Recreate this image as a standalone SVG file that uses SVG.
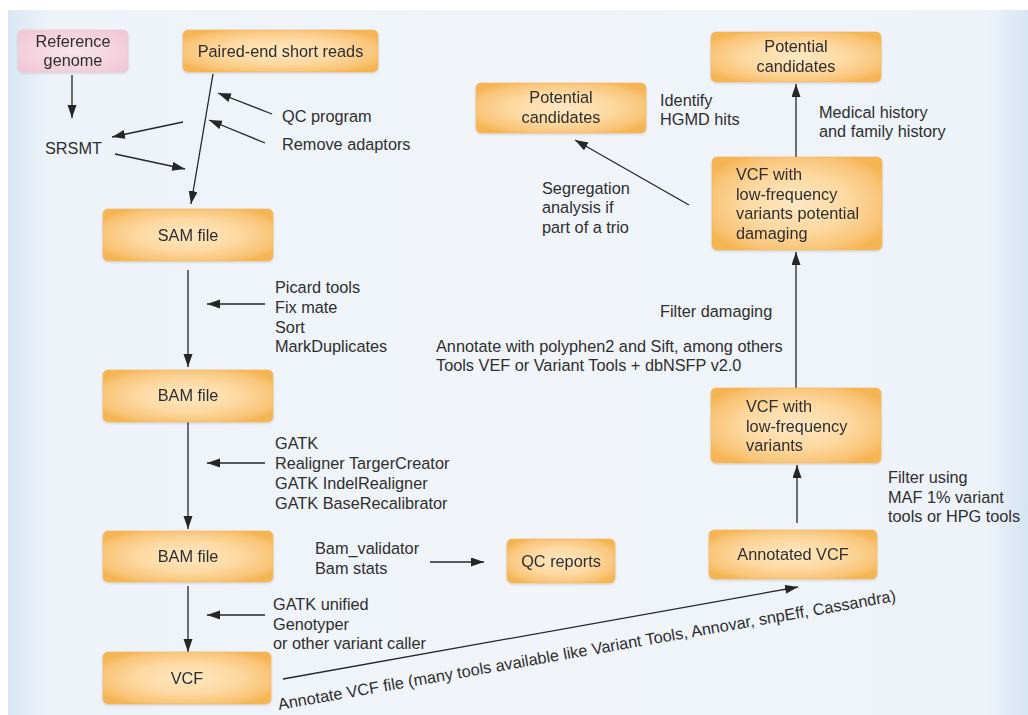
<svg xmlns="http://www.w3.org/2000/svg" width="1028" height="715" viewBox="0 0 1028 715">
  <defs>
    <style>
      text { font-family: "Liberation Sans", Arial, sans-serif; font-size: 16.3px; fill: #2e2e2e; }
      .c { text-anchor: middle; }
      .box { fill: url(#orange); stroke: #f3b55e; stroke-width: 0.6; }
      .pink { fill: url(#pinkfill); stroke: #ecc6d3; stroke-width: 0.6; }
      .line { stroke: #262626; stroke-width: 1.3; fill: none; marker-end: url(#arrow); }
    </style>
    <radialGradient id="orange" cx="0.5" cy="0.5" r="0.6">
      <stop offset="0" stop-color="#fee7c2"/>
      <stop offset="0.5" stop-color="#fdd9a2"/>
      <stop offset="0.85" stop-color="#f9c477"/>
      <stop offset="1" stop-color="#f6b554"/>
    </radialGradient>
    <radialGradient id="pinkfill" cx="0.5" cy="0.5" r="0.65">
      <stop offset="0" stop-color="#f9e4ec"/>
      <stop offset="1" stop-color="#f1c7d6"/>
    </radialGradient>
    <linearGradient id="panel" x1="0" y1="0" x2="1" y2="0">
      <stop offset="0" stop-color="#d9e6f4"/>
      <stop offset="0.04" stop-color="#edf3f9"/>
      <stop offset="0.5" stop-color="#f1f5fa"/>
      <stop offset="0.96" stop-color="#edf3f9"/>
      <stop offset="1" stop-color="#d6e5f3"/>
    </linearGradient>
    <filter id="shadow" x="-10%" y="-10%" width="120%" height="130%">
      <feGaussianBlur in="SourceAlpha" stdDeviation="1.2"/>
      <feOffset dy="1" result="b"/>
      <feComponentTransfer><feFuncA type="linear" slope="0.18"/></feComponentTransfer>
      <feMerge><feMergeNode/><feMergeNode in="SourceGraphic"/></feMerge>
    </filter>
    <marker id="arrow" markerUnits="userSpaceOnUse" markerWidth="14" markerHeight="10" refX="13" refY="4.5" orient="auto">
      <path d="M0,0 L13,4.5 L0,9 z" fill="#262626"/>
    </marker>
  </defs>

  <!-- page background -->
  <rect x="0" y="0" width="1028" height="715" fill="#ffffff"/>
  <rect x="8" y="10" width="1020" height="705" fill="url(#panel)"/>

  <!-- connectors -->
  <g id="connectors">
    <line class="line" x1="72" y1="75" x2="72" y2="118"/>
    <line class="line" x1="183" y1="122" x2="112" y2="137"/>
    <line class="line" x1="115" y1="154" x2="185" y2="169"/>
    <line class="line" x1="213" y1="74" x2="191" y2="204"/>
    <line class="line" x1="272" y1="114" x2="218" y2="93"/>
    <line class="line" x1="265" y1="143" x2="209" y2="120"/>
    <line class="line" x1="188" y1="270" x2="188" y2="367"/>
    <line class="line" x1="265" y1="304" x2="207" y2="304"/>
    <line class="line" x1="188" y1="422" x2="188" y2="529"/>
    <line class="line" x1="265" y1="463" x2="207" y2="463"/>
    <line class="line" x1="188" y1="586" x2="188" y2="652"/>
    <line class="line" x1="265" y1="615" x2="207" y2="615"/>
    <line class="line" x1="430" y1="562" x2="484" y2="562"/>
    <line class="line" x1="283" y1="679" x2="798" y2="587"/>
    <line class="line" x1="797" y1="523" x2="797" y2="465"/>
    <line class="line" x1="796" y1="388" x2="796" y2="252"/>
    <line class="line" x1="796" y1="157" x2="796" y2="84"/>
    <line class="line" x1="689" y1="205" x2="575" y2="140"/>
  </g>

  <!-- nodes -->
  <g id="reference-genome" filter="url(#shadow)">
    <rect class="pink" x="18" y="30" width="110" height="42" rx="5"/>
    <text class="c" x="73" y="47">Reference</text>
    <text class="c" x="73" y="66">genome</text>
  </g>
  <g id="paired-end-reads" filter="url(#shadow)">
    <rect class="box" x="183" y="30" width="195" height="42" rx="5"/>
    <text class="c" x="280.5" y="57">Paired-end short reads</text>
  </g>
  <g id="sam-file" filter="url(#shadow)">
    <rect class="box" x="103" y="209" width="170" height="52" rx="5"/>
    <text class="c" x="188" y="241">SAM file</text>
  </g>
  <g id="bam-file-1" filter="url(#shadow)">
    <rect class="box" x="103" y="370" width="170" height="52" rx="5"/>
    <text class="c" x="188" y="401">BAM file</text>
  </g>
  <g id="bam-file-2" filter="url(#shadow)">
    <rect class="box" x="103" y="531" width="170" height="51" rx="5"/>
    <text class="c" x="188" y="562">BAM file</text>
  </g>
  <g id="vcf" filter="url(#shadow)">
    <rect class="box" x="103" y="652" width="168" height="52" rx="5"/>
    <text class="c" x="187" y="684">VCF</text>
  </g>
  <g id="qc-reports" filter="url(#shadow)">
    <rect class="box" x="507" y="539" width="108" height="44" rx="5"/>
    <text class="c" x="561" y="567">QC reports</text>
  </g>
  <g id="annotated-vcf" filter="url(#shadow)">
    <rect class="box" x="709" y="530" width="168" height="49" rx="5"/>
    <text class="c" x="793" y="560">Annotated VCF</text>
  </g>
  <g id="vcf-low-frequency" filter="url(#shadow)">
    <rect class="box" x="711" y="388" width="170" height="75" rx="5"/>
    <text x="746" y="412">VCF with</text>
    <text x="746" y="432">low-frequency</text>
    <text x="746" y="451">variants</text>
  </g>
  <g id="vcf-damaging" filter="url(#shadow)">
    <rect class="box" x="712" y="157" width="170" height="93" rx="5"/>
    <text x="736" y="180">VCF with</text>
    <text x="736" y="200">low-frequency</text>
    <text x="736" y="219">variants potential</text>
    <text x="736" y="239">damaging</text>
  </g>
  <g id="potential-candidates-top" filter="url(#shadow)">
    <rect class="box" x="711" y="32" width="170" height="50" rx="5"/>
    <text class="c" x="796" y="52">Potential</text>
    <text class="c" x="796" y="72">candidates</text>
  </g>
  <g id="potential-candidates-left" filter="url(#shadow)">
    <rect class="box" x="476" y="83" width="170" height="50" rx="5"/>
    <text class="c" x="561" y="103">Potential</text>
    <text class="c" x="561" y="123">candidates</text>
  </g>

  <!-- step labels -->
  <g id="labels">
    <text x="45" y="154">SRSMT</text>
    <text x="282" y="122">QC program</text>
    <text x="282" y="150">Remove adaptors</text>
    <text x="275" y="293">Picard tools</text>
    <text x="275" y="313">Fix mate</text>
    <text x="275" y="333">Sort</text>
    <text x="275" y="352">MarkDuplicates</text>
    <text x="275" y="449">GATK</text>
    <text x="275" y="469">Realigner TargerCreator</text>
    <text x="275" y="489">GATK IndelRealigner</text>
    <text x="275" y="509">GATK BaseRecalibrator</text>
    <text x="315" y="554">Bam_validator</text>
    <text x="315" y="574">Bam stats</text>
    <text x="273" y="610">GATK unified</text>
    <text x="273" y="630">Genotyper</text>
    <text x="273" y="649">or other variant caller</text>
    <text transform="translate(279,710) rotate(-10)" x="0" y="0">Annotate VCF file (many tools available like Variant Tools, Annovar, snpEff, Cassandra)</text>
    <text x="888" y="483">Filter using</text>
    <text x="888" y="503">MAF 1% variant</text>
    <text x="888" y="522">tools or HPG tools</text>
    <text x="660" y="317">Filter damaging</text>
    <text x="436" y="352">Annotate with polyphen2 and Sift, among others</text>
    <text x="436" y="371">Tools VEF or Variant Tools + dbNSFP v2.0</text>
    <text x="542" y="194">Segregation</text>
    <text x="542" y="213">analysis if</text>
    <text x="542" y="233">part of a trio</text>
    <text x="660" y="106">Identify</text>
    <text x="660" y="125">HGMD hits</text>
    <text x="819" y="118">Medical history</text>
    <text x="819" y="137">and family history</text>
  </g>
</svg>
